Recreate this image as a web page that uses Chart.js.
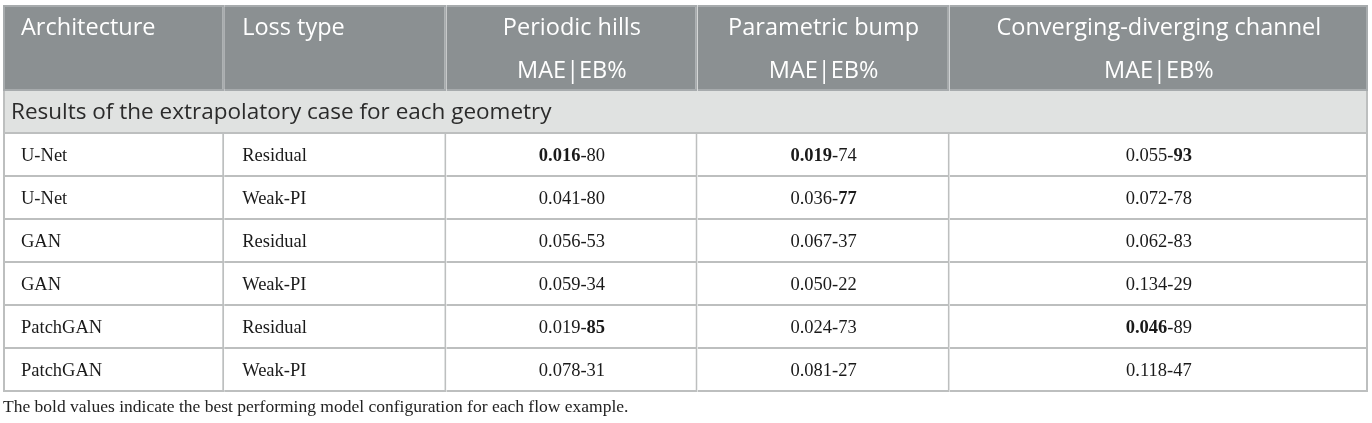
<!DOCTYPE html>
<html>
<head>
<meta charset="utf-8">
<script src="https://cdn.jsdelivr.net/npm/chart.js@4.4.1/dist/chart.umd.min.js"></script>
<style>
  body { margin: 0; background: #fff; }
  #wrap { width: 1372px; height: 423px; }
</style>
</head>
<body>
<div id="wrap"><canvas id="table"></canvas></div>
<script>
// ---- table content ----
let headers = [['Architecture'], ['Loss type'], ['Periodic hills', 'MAE|EB%'], ['Parametric bump', 'MAE|EB%'], ['Converging-diverging channel', 'MAE|EB%']];
let groupLabel = 'Results of the extrapolatory case for each geometry';
let footnote = 'The bold values indicate the best performing model configuration for each flow example.';

let architectures = ['U-Net', 'U-Net', 'GAN', 'GAN', 'PatchGAN', 'PatchGAN'];
let lossTypes = ['Residual', 'Weak-PI', 'Residual', 'Weak-PI', 'Residual', 'Weak-PI'];

let hillsMAE = [0.016, 0.041, 0.056, 0.059, 0.019, 0.078];
let hillsEB = [80, 80, 53, 34, 85, 31];
let bumpMAE = [0.019, 0.036, 0.067, 0.050, 0.024, 0.081];
let bumpEB = [74, 77, 37, 22, 73, 27];
let channelMAE = [0.055, 0.072, 0.062, 0.134, 0.046, 0.118];
let channelEB = [93, 78, 83, 29, 89, 47];

// layout (not data)
let colWidths = [221, 222, 251, 252, 418];
let tableWidth = colWidths.reduce((s, w) => s + w, 0);
let rowKeys = ['head1', 'head2', 'group'].concat(architectures.map((a, i) => 'row' + i));
let GROUP = 2;

let headBg = '#8b9092';
let headLine = '#a7abad';
let groupBg = '#e0e2e1';
let lineColor = '#bdbfbf';
let serif = '"Liberation Serif", "Times New Roman", serif';
let sans = '"Open Sans", sans-serif';

let metrics = [
    { mae: hillsMAE, eb: hillsEB },
    { mae: bumpMAE, eb: bumpEB },
    { mae: channelMAE, eb: channelEB }
];

function rowBg(i) {
    if (i < 2) return headBg;
    if (i === GROUP) return groupBg;
    return '#ffffff';
}

// every cell is one segment of a stacked horizontal bar;
// the group row is a single cell spanning the whole width
let datasets = colWidths.map(function(w, c) {
    return {
        label: 'col' + c,
        data: rowKeys.map((k, i) => i === GROUP ? (c === 0 ? tableWidth : 0) : w),
        backgroundColor: rowKeys.map((k, i) => rowBg(i)),
        borderColor: rowKeys.map((k, i) => i < 2 ? headLine : lineColor),
        borderSkipped: false,
        inflateAmount: 0,
        borderWidth: function(ctx) {
            let r = ctx.dataIndex;
            return {
                top: r === 0 ? 2 : 0,
                bottom: r === 0 ? 0 : 2,
                left: c === 0 ? 2 : 0,
                right: 2
            };
        },
        barPercentage: 1,
        categoryPercentage: 1,
        clip: false
    };
});

let tableText = {
    id: 'tableText',
    afterDatasetsDraw(chart) {
        let ctx = chart.ctx;
        let metas = colWidths.map((w, c) => chart.getDatasetMeta(c));
        ctx.save();
        ctx.textBaseline = 'middle';

        // header
        ctx.fillStyle = '#ffffff';
        ctx.font = '23.5px ' + sans;
        headers.forEach(function(lines, c) {
            let top = metas[c].data[0];
            let bottom = metas[c].data[1];
            if (lines.length === 1) {
                ctx.textAlign = 'left';
                ctx.fillText(lines[0], top.base + 18, top.y + 2);
            } else {
                ctx.textAlign = 'center';
                let mid = (top.base + top.x) / 2;
                ctx.fillText(lines[0], mid, top.y + 2);
                ctx.fillText(lines[1], mid, bottom.y + 2);
            }
        });

        // group row
        let g = metas[0].data[GROUP];
        ctx.fillStyle = '#2b2b2b';
        ctx.textAlign = 'left';
        ctx.font = '22.5px ' + sans;
        ctx.fillText(groupLabel, g.base + 8, g.y);

        // body
        ctx.fillStyle = '#1a1a1a';
        architectures.forEach(function(arch, r) {
            let i = r + 3;
            ctx.font = '18.5px ' + serif;
            ctx.textAlign = 'left';
            let a = metas[0].data[i];
            let l = metas[1].data[i];
            ctx.fillText(arch, a.base + 18, a.y + 1);
            ctx.fillText(lossTypes[r], l.base + 18, l.y + 1);

            metrics.forEach(function(m, k) {
                let el = metas[k + 2].data[i];
                let bestMae = Math.min.apply(null, m.mae);
                let bestEb = Math.max.apply(null, m.eb);
                let parts = [
                    { t: m.mae[r].toFixed(3), b: m.mae[r] === bestMae },
                    { t: '-', b: false },
                    { t: String(m.eb[r]), b: m.eb[r] === bestEb }
                ];
                let total = 0;
                parts.forEach(function(p) {
                    ctx.font = (p.b ? 'bold ' : '') + '18.5px ' + serif;
                    p.w = ctx.measureText(p.t).width;
                    total += p.w;
                });
                let x = (el.base + el.x) / 2 - total / 2;
                parts.forEach(function(p) {
                    ctx.font = (p.b ? 'bold ' : '') + '18.5px ' + serif;
                    ctx.fillText(p.t, x, el.y + 1);
                    x += p.w;
                });
            });
        });
        ctx.restore();
    }
};

new Chart(document.getElementById('table'), {
    type: 'bar',
    data: { labels: rowKeys, datasets: datasets },
    options: {
        indexAxis: 'y',
        responsive: true,
        maintainAspectRatio: false,
        animation: false,
        layout: { padding: { left: 3, right: 4, top: 5, bottom: 0 } },
        scales: {
            x: { stacked: true, display: false, min: 0, max: tableWidth },
            y: { stacked: true, display: false }
        },
        plugins: {
            legend: { display: false },
            tooltip: { enabled: false },
            title: {
                display: true,
                position: 'bottom',
                align: 'start',
                text: footnote,
                color: '#222',
                font: { family: serif, size: 17.5, weight: 'normal', lineHeight: '20px' },
                padding: { top: 5, bottom: 6 }
            }
        }
    },
    plugins: [tableText]
});
</script>
</body>
</html>
